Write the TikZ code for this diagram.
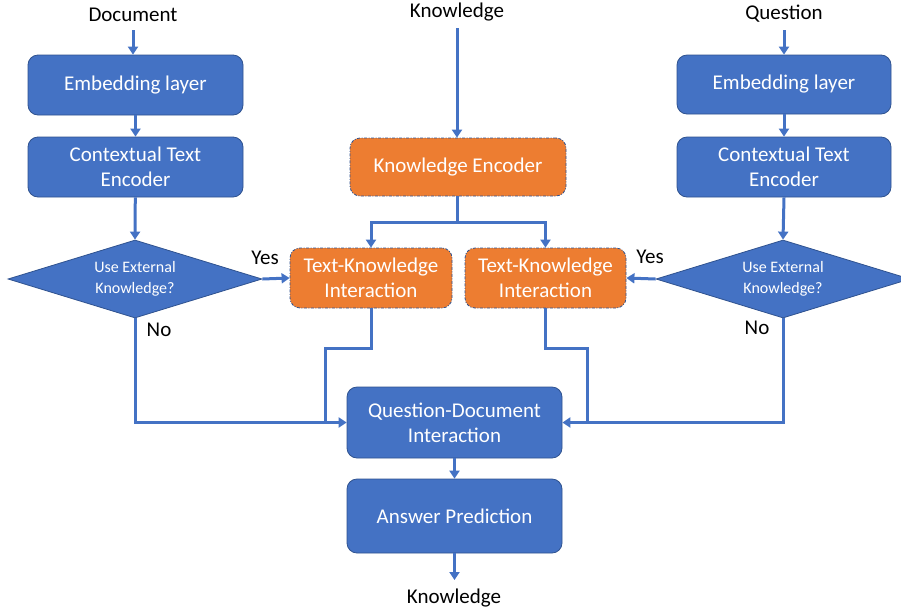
\documentclass[tikz,border=0pt]{standalone}
\usepackage{fontspec}
\setmainfont{Carlito}
\usetikzlibrary{shapes.geometric,arrows.meta}
\definecolor{boxblue}{HTML}{4472C4}
\definecolor{edgeblue}{HTML}{2F528F}
\definecolor{boxorange}{HTML}{ED7D31}
\tikzset{
  x=1pt, y=-1pt,
  bluebox/.style={draw=edgeblue, line width=0.8pt, fill=boxblue, rounded corners=10pt,
    text=white, align=center, font=\fontsize{21}{25}\selectfont, inner sep=0pt},
  orangebox/.style={draw=edgeblue, line width=0.8pt, dash pattern=on 3pt off 1.5pt on 1pt off 1.5pt,
    fill=boxorange, rounded corners=10pt, text=white, align=center,
    font=\fontsize{21}{25}\selectfont, inner sep=0pt},
  decision/.style={diamond, draw=edgeblue, line width=0.8pt, fill=boxblue, text=white,
    align=center, font=\fontsize{16}{21}\selectfont, inner sep=0pt, aspect=3.26,
    minimum width=254pt, minimum height=78pt},
  plain/.style={font=\fontsize{21}{25}\selectfont, text=black, inner sep=0pt},
  flow/.style={draw=boxblue, line width=3pt},
  arrow/.style={flow, -{Triangle[length=8pt,width=10pt]}},
}
\begin{document}
\begin{tikzpicture}
\useasboundingbox (0,0) rectangle (901,614);
\fill[white] (0,0) rectangle (901,614);

% left column: document branch
\node[plain] (doc) at (133,15) {Document};
\node[bluebox, minimum width=215pt, minimum height=60pt] (embL) at (135.5,85) {Embedding layer};
\node[bluebox, minimum width=215pt, minimum height=60pt] (ctxL) at (135.5,167) {Contextual Text\\Encoder};
\node[decision] (decL) at (135,279) {Use External\\Knowledge?};

% right column: question branch
\node[plain] (que) at (784,14) {Question};
\node[bluebox, minimum width=214pt, minimum height=59pt] (embR) at (784,84.5) {Embedding layer};
\node[bluebox, minimum width=214pt, minimum height=60pt] (ctxR) at (784,167) {Contextual Text\\Encoder};
\node[decision] (decR) at (783,279) {Use External\\Knowledge?};

% middle: knowledge branch
\node[plain] (kn) at (457,12) {Knowledge};
\node[orangebox, minimum width=216pt, minimum height=58pt] (kenc) at (458,167) {Knowledge Encoder};
\node[orangebox, minimum width=162pt, minimum height=60pt] (tkL) at (371,278) {Text-Knowledge\\Interaction};
\node[orangebox, minimum width=161pt, minimum height=60pt] (tkR) at (545.5,278) {Text-Knowledge\\Interaction};

% bottom: interaction and prediction
\node[bluebox, minimum width=215pt, minimum height=71pt] (qdi) at (454.5,422.5) {Question-Document\\Interaction};
\node[bluebox, minimum width=215pt, minimum height=74pt] (ans) at (454.5,516) {Answer Prediction};
\node[plain] (out) at (454,598) {Knowledge};

% branch labels
\node[plain] (yesL) at (265,258) {Yes};
\node[plain] (noL) at (159,330) {No};
\node[plain] (yesR) at (650,257) {Yes};
\node[plain] (noR) at (757,328) {No};

% junction points
\coordinate (split) at (457,222);
\coordinate (joinL) at (325,348);
\coordinate (joinR) at (587,348);

% connectors
\draw[arrow] (doc.south |- 0,30) -- (embL.north -| doc.south);
\draw[arrow] (embL) -- (ctxL);
\draw[arrow] (ctxL) -- (decL.north);
\draw[arrow] (que.south |- 0,30) -- (embR.north -| que.south);
\draw[arrow] (embR) -- (ctxR);
\draw[arrow] (ctxR.south) -- (decR.north);
\draw[arrow] (kn.south |- 0,28) -- (kenc.north -| kn.south);

\draw[flow] (kenc.south -| split) -- (split);
\draw[arrow] (split) -| (tkL.north);
\draw[arrow] (split) -| (tkR.north);

\draw[arrow] (decL.east) -- (tkL.west);
\draw[arrow] (decR.west) -- (tkR.east);

\draw[arrow] (decL.south) |- (qdi.west);
\draw[arrow] (decR.south) |- (qdi.east);
\draw[flow] (tkL.south) |- (joinL) -- (joinL |- qdi.west);
\draw[flow] (tkR.south) |- (joinR) -- (joinR |- qdi.east);

\draw[arrow] (qdi) -- (ans);
\draw[arrow] (ans.south) -- (ans.south |- 0,580);
\end{tikzpicture}
\end{document}
